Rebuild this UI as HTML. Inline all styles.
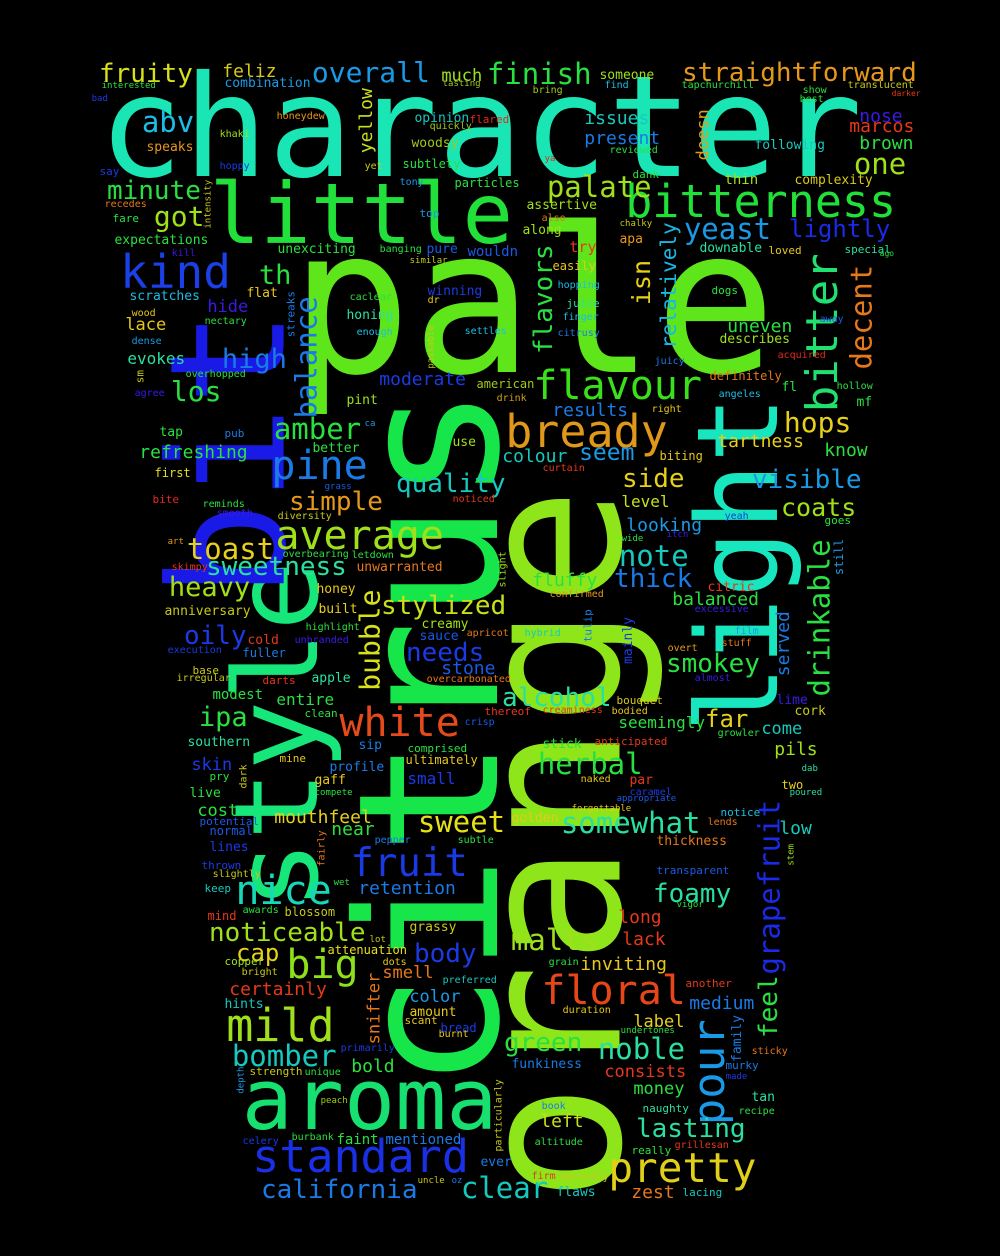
<!DOCTYPE html>
<html><head><meta charset="utf-8">
<style>
html,body{margin:0;padding:0;background:#000;}
#cloud{position:relative;width:1000px;height:1256px;overflow:hidden;background:#000;font-family:"DejaVu Sans Mono","Liberation Mono",monospace;}
.w{position:absolute;white-space:nowrap;line-height:1;}
</style></head>
<body>
<div id="cloud"></div>
<script>
// [word, x, baselineY, fontSize, color, vertical(1 = rotated -90deg; x = baseline x, y = start bottom)]
const words = [
["character",104,177,141,"#19e6b4",0],
["little",213,243,84,"#22e03a",0],
["pale",298,372,202,"#5ee61a",0],
["citrus",497,1082,195,"#17e64a",1],
["orange",620,1195,198,"#8ee61a",1],
["light",778,728,112,"#17e6be",1],
["style",318,905,116,"#17e67a",1],
["bit",284,592,160,"#1a1ae6",1],
["aroma",245,1130,85,"#17e070",0],
["bitterness",627,217,45,"#22e03a",0],
["standard",254,1172,45,"#1a30e6",0],
["pretty",610,1183,41,"#e0d01a",0],
["bready",507,447,45,"#e0981a",0],
["flavour",535,400,40,"#3ae01a",0],
["white",341,737,40,"#e64a1a",0],
["average",277,550,40,"#a0e01a",0],
["pine",273,480,40,"#1a7be6",0],
["mild",228,1041,45,"#a0e01a",0],
["floral",543,1005,40,"#e6461a",0],
["nice",237,905,40,"#17d8b8",0],
["fruit",352,877,39,"#1a3ae6",0],
["big",288,979,40,"#8ee01a",0],
["kind",122,288,46,"#1a40e6",0],
["lightly",790,237,24,"#1a2ae6",0],
["bitter",838,410,44,"#20e070",1],
["decent",872,368,29,"#e6781a",1],
["relatively",677,348,21,"#17b8e6",1],
["isn",650,304,25,"#e6d01a",1],
["flavors",553,353,26,"#2ae040",1],
["doesn",710,160,17,"#e69a1a",1],
["yellow",373,153,18,"#c8e01a",1],
["balance",317,417,29,"#1a7be6",1],
["bubble",380,690,28,"#d8e01a",1],
["snifter",381,1044,17,"#e6781a",1],
["drinkable",830,695,29,"#2ae040",1],
["grapefruit",780,973,29,"#1a2ae6",1],
["feel",778,1037,26,"#2ae040",1],
["pour",725,1123,44,"#1a9ae6",1],
["served",790,676,18,"#1a7be6",1],
["still",843,575,12,"#1a9ae6",1],
["family",742,1061,13,"#1a7be6",1],
["mainly",633,663,13,"#1a3ae6",1],
["tulip",592,642,11,"#1a7be6",1],
["slight",507,587,10,"#a0e01a",1],
["passable",435,368,9,"#c8c81a",1],
["streaks",295,337,11,"#1a7be6",1],
["intensity",212,228,9,"#c8c81a",1],
["sm",144,383,11,"#c8c81a",1],
["dark",248,788,10,"#c8c81a",1],
["fairly",326,866,10,"#e6781a",1],
["depth",245,1093,9,"#1a9ae6",1],
["particularly",503,1151,10,"#c8c81a",1],
["stem",795,865,9,"#a0e01a",1],
["fruity",100,83,26,"#d8e01a",0],
["feliz",223,78,18,"#d8c81a",0],
["overall",313,83,28,"#1a9ae6",0],
["much",442,82,17,"#a0e01a",0],
["finish",488,85,29,"#2ae040",0],
["interested",102,90,9,"#2ae040",0],
["combination",225,88,13,"#1a9ae6",0],
["tasting",443,88,9,"#a0c81a",0],
["bad",92,103,9,"#1a3ae6",0],
["abv",143,133,29,"#1abee6",0],
["honeydew",277,120,10,"#e6981a",0],
["opinion",415,123,13,"#17c8be",0],
["flared",470,123,11,"#e6281a",0],
["quickly",430,130,10,"#a0c81a",0],
["speaks",147,152,13,"#e6981a",0],
["khaki",220,138,10,"#a0e01a",0],
["woodsy",412,148,13,"#a0c81a",0],
["subtlety",403,168,12,"#2ae040",0],
["say",100,175,11,"#1a3ae6",0],
["hoppy",220,170,10,"#1a3ae6",0],
["yet",365,170,10,"#c8c81a",0],
["minute",108,200,26,"#2ae040",0],
["got",155,227,28,"#a0e01a",0],
["tony",400,186,10,"#1a9ae6",0],
["particles",455,187,12,"#2ae040",0],
["recedes",105,208,10,"#e6781a",0],
["fare",113,222,11,"#2ae040",0],
["top",420,217,11,"#1a9ae6",0],
["expectations",115,245,13,"#2ae040",0],
["unexciting",278,254,13,"#2ae040",0],
["banging",380,253,10,"#2ae040",0],
["pure",427,254,13,"#1a5ae6",0],
["wouldn",468,257,14,"#1a5ae6",0],
["kill",172,257,10,"#3a1ae6",0],
["th",260,285,27,"#2ae040",0],
["similar",410,265,9,"#c8c81a",0],
["scratches",130,301,13,"#1abee6",0],
["flat",247,298,13,"#e6c81a",0],
["caclear",350,301,10,"#2ae040",0],
["winning",428,296,13,"#1a3ae6",0],
["dr",428,304,10,"#e6c81a",0],
["hide",208,313,17,"#3a1ae6",0],
["wood",132,317,10,"#e6c81a",0],
["lace",126,331,17,"#e6c81a",0],
["honing",347,320,13,"#2ae0a0",0],
["nectary",205,325,10,"#2ae040",0],
["enough",357,336,10,"#1abee6",0],
["settles",465,335,10,"#1abee6",0],
["dense",132,345,10,"#1a9ae6",0],
["evokes",128,365,16,"#2ae0a0",0],
["high",223,369,27,"#1a7be6",0],
["overhopped",186,378,10,"#2ae040",0],
["moderate",380,386,18,"#1a3ae6",0],
["los",172,402,28,"#2ae040",0],
["agree",135,397,10,"#3a1ae6",0],
["american",477,388,12,"#a0c81a",0],
["pint",347,405,13,"#a0e01a",0],
["drink",497,402,10,"#c8a01a",0],
["amber",275,440,29,"#2ae040",0],
["ca",365,428,9,"#1a9ae6",0],
["tap",160,437,13,"#2ae040",0],
["pub",225,437,11,"#1a7be6",0],
["use",453,447,13,"#a0e01a",0],
["better",313,453,13,"#2ae040",0],
["refreshing",140,459,18,"#2ae040",0],
["first",155,477,12,"#e6e01a",0],
["grass",325,491,9,"#1a5ae6",0],
["quality",397,493,26,"#17c8be",0],
["straightforward",683,82,26,"#e6981a",0],
["someone",600,80,13,"#a0e01a",0],
["find",605,89,10,"#1abee6",0],
["bring",533,94,10,"#a0c81a",0],
["tapchurchill",682,89,10,"#2ae040",0],
["show",803,94,10,"#2ae040",0],
["translucent",848,89,10,"#c8c81a",0],
["darker",892,97,8,"#e6381a",0],
["best",800,103,10,"#2ae040",0],
["issues",585,125,18,"#17c8be",0],
["nose",860,123,18,"#3a1ae6",0],
["marcos",850,133,18,"#e6381a",0],
["present",585,145,18,"#1a7be6",0],
["reviewed",610,154,10,"#2ae040",0],
["following",755,150,13,"#17c8be",0],
["brown",860,150,18,"#2ae040",0],
["ya",545,163,9,"#e6281a",0],
["one",855,175,29,"#a0e01a",0],
["dank",633,178,11,"#2ae040",0],
["thin",725,185,14,"#a0e01a",0],
["complexity",795,185,13,"#d8c81a",0],
["palate",548,198,29,"#a0e01a",0],
["assertive",527,210,13,"#a0e01a",0],
["also",542,222,10,"#e6781a",0],
["along",523,235,13,"#a0e01a",0],
["chalky",620,228,9,"#c8c81a",0],
["yeast",685,240,29,"#1a9ae6",0],
["apa",620,244,13,"#e6981a",0],
["try",570,253,15,"#e6381a",0],
["downable",700,253,13,"#2ae0a0",0],
["loved",769,254,11,"#e6c81a",0],
["special",845,253,11,"#2ae0a0",0],
["ago",880,257,8,"#2ae040",0],
["easily",553,270,12,"#e6c81a",0],
["hopping",558,289,10,"#1abee6",0],
["dogs",712,294,11,"#2ae040",0],
["juice",567,307,11,"#2ae0a0",0],
["finger",563,321,10,"#1abee6",0],
["uneven",728,333,18,"#2ae040",0],
["describes",720,344,13,"#a0e01a",0],
["away",820,323,10,"#1a5ae6",0],
["citrusy",558,337,10,"#1a7be6",0],
["acquired",778,359,10,"#e6281a",0],
["juicy",655,365,10,"#1a7be6",0],
["definitely",710,380,12,"#e6781a",0],
["hollow",837,390,10,"#2ae040",0],
["fl",782,392,13,"#2ae040",0],
["mf",857,407,13,"#2ae040",0],
["angeles",719,398,10,"#1abee6",0],
["results",553,417,18,"#1a7be6",0],
["right",652,413,10,"#e6c81a",0],
["hops",785,433,28,"#e6d01a",0],
["tartness",718,448,18,"#e6d01a",0],
["know",825,457,18,"#2ae040",0],
["colour",503,463,18,"#17c8be",0],
["seem",580,461,23,"#1a9ae6",0],
["biting",660,460,12,"#e6c81a",0],
["curtain",543,472,10,"#e6381a",0],
["side",623,488,26,"#e6d01a",0],
["visible",753,489,26,"#1a9ae6",0],
["coats",782,516,25,"#a0e01a",0],
["level",622,508,16,"#c8e01a",0],
["noticed",453,503,10,"#e6381a",0],
["yeah",725,520,10,"#1a3ae6",0],
["goes",825,524,11,"#2ae040",0],
["looking",627,532,18,"#1a9ae6",0],
["wide",622,543,9,"#2ae040",0],
["itch",667,539,9,"#3a1ae6",0],
["note",620,567,29,"#17c8be",0],
["letdown",352,559,10,"#2ae040",0],
["unwarranted",357,572,13,"#e6781a",0],
["fluffy",533,587,18,"#2ae040",0],
["thick",615,588,26,"#1a7be6",0],
["citric",708,592,13,"#e6381a",0],
["confirmed",550,598,10,"#e6981a",0],
["stylized",382,615,26,"#c8e01a",0],
["balanced",673,606,18,"#2ae040",0],
["excessive",695,613,10,"#3a1ae6",0],
["creamy",422,629,13,"#a0e01a",0],
["apricot",467,637,10,"#e6781a",0],
["hybrid",525,637,10,"#17c8be",0],
["sauce",420,641,13,"#1a5ae6",0],
["film",735,635,10,"#1a9ae6",0],
["stuff",722,647,10,"#e6781a",0],
["needs",407,662,26,"#1a3ae6",0],
["overt",668,652,10,"#e6981a",0],
["smokey",667,673,26,"#2ae040",0],
["stone",442,675,18,"#1a5ae6",0],
["almost",695,682,10,"#3a1ae6",0],
["overcarbonated",427,683,10,"#e6781a",0],
["alcohol",503,707,26,"#2ae0a0",0],
["bouquet",617,704,11,"#d8c81a",0],
["lime",777,705,13,"#3a1ae6",0],
["cork",795,716,13,"#c8c81a",0],
["entire",277,706,16,"#2ae040",0],
["apple",312,683,13,"#2ae0a0",0],
["darts",263,684,11,"#e6381a",0],
["modest",213,700,14,"#2ae040",0],
["clean",305,717,11,"#2ae040",0],
["thereof",485,715,11,"#e6381a",0],
["creaminess",543,714,10,"#e6381a",0],
["bodied",612,715,10,"#e6c81a",0],
["crisp",465,726,10,"#1a5ae6",0],
["seemingly",619,729,16,"#2ae040",0],
["far",706,727,24,"#e6d01a",0],
["come",762,735,17,"#17c8be",0],
["growler",718,737,10,"#2ae040",0],
["ipa",200,727,27,"#2ae040",0],
["southern",188,747,13,"#2ae0a0",0],
["sip",359,750,13,"#1a7be6",0],
["comprised",408,752,11,"#2ae040",0],
["mine",280,762,11,"#e6c81a",0],
["stick",543,749,13,"#2ae040",0],
["anticipated",595,745,11,"#e6381a",0],
["herbal",539,775,29,"#2ae040",0],
["profile",330,772,13,"#1a7be6",0],
["ultimately",406,764,12,"#e6c81a",0],
["par",630,785,13,"#e6381a",0],
["skin",192,771,17,"#1a3ae6",0],
["pry",210,780,11,"#2ae040",0],
["gaff",315,785,13,"#e6c81a",0],
["small",408,785,16,"#1a3ae6",0],
["naked",581,783,10,"#e6c81a",0],
["caramel",630,796,10,"#1a3ae6",0],
["appropriate",617,803,9,"#1a5ae6",0],
["compete",315,797,9,"#2ae040",0],
["live",190,798,13,"#2ae040",0],
["cost",198,817,17,"#2ae040",0],
["potential",200,825,11,"#1a5ae6",0],
["mouthfeel",275,824,18,"#e6d01a",0],
["near",332,836,18,"#2ae040",0],
["forgettable",572,813,9,"#e6c81a",0],
["golden",512,823,13,"#e6c81a",0],
["sweet",419,833,29,"#e6e01a",0],
["somewhat",562,834,29,"#2ae0a0",0],
["notice",721,816,11,"#1abee6",0],
["lends",708,826,10,"#e6781a",0],
["low",780,835,18,"#17c8be",0],
["normal",210,835,12,"#1a5ae6",0],
["lines",210,852,13,"#1a3ae6",0],
["thrown",202,869,11,"#1a3ae6",0],
["slightly",213,878,10,"#c8c81a",0],
["keep",205,892,11,"#17c8be",0],
["pepper",375,844,10,"#1a7be6",0],
["subtle",458,844,10,"#2ae040",0],
["thickness",657,846,13,"#e6781a",0],
["transparent",657,874,11,"#1a5ae6",0],
["retention",359,895,18,"#1a7be6",0],
["foamy",654,903,26,"#2ae0a0",0],
["wet",334,887,9,"#2ae040",0],
["awards",243,914,10,"#2ae040",0],
["blossom",285,916,12,"#c8c81a",0],
["mind",208,920,12,"#e6381a",0],
["vigor",677,909,9,"#2ae040",0],
["long",619,924,18,"#e6381a",0],
["noticeable",210,942,26,"#a0e01a",0],
["grassy",410,932,13,"#c8c81a",0],
["lot",370,944,9,"#c8c81a",0],
["malts",512,951,29,"#a0e01a",0],
["lack",623,946,18,"#e6381a",0],
["cap",237,961,24,"#e6d01a",0],
["attenuation",328,954,12,"#e6e01a",0],
["body",415,963,26,"#1a3ae6",0],
["dots",383,966,10,"#e6c81a",0],
["grain",549,966,10,"#2ae040",0],
["inviting",581,971,18,"#e6c81a",0],
["copper",225,965,11,"#a0e01a",0],
["bright",242,976,10,"#c8c81a",0],
["smell",383,979,17,"#e6781a",0],
["preferred",443,984,10,"#17c8be",0],
["another",686,987,11,"#e6381a",0],
["certainly",230,996,18,"#e6381a",0],
["hints",225,1009,13,"#17c8be",0],
["color",410,1003,17,"#1a9ae6",0],
["medium",690,1010,18,"#1a7be6",0],
["duration",563,1014,10,"#e6c81a",0],
["amount",410,1017,13,"#e6c81a",0],
["scant",405,1024,11,"#e6c81a",0],
["bread",441,1032,12,"#1a3ae6",0],
["label",634,1028,17,"#e6d01a",0],
["burnt",439,1038,10,"#e6c81a",0],
["undertones",621,1035,9,"#2ae040",0],
["green",505,1052,26,"#2ae040",0],
["bomber",233,1067,29,"#17c8be",0],
["noble",599,1060,29,"#2ae0a0",0],
["primarily",341,1052,10,"#1a3ae6",0],
["sticky",752,1055,10,"#e6781a",0],
["strength",250,1075,11,"#c8c81a",0],
["unique",305,1076,10,"#2ae040",0],
["bold",352,1073,18,"#2ae040",0],
["funkiness",512,1069,13,"#1a7be6",0],
["consists",605,1078,17,"#e6381a",0],
["murky",726,1069,11,"#1a7be6",0],
["made",726,1081,9,"#1a3ae6",0],
["money",634,1095,17,"#2ae040",0],
["tan",752,1102,13,"#2ae0a0",0],
["peach",321,1105,9,"#a0c81a",0],
["naughty",643,1112,11,"#2ae0a0",0],
["book",542,1110,10,"#1a7be6",0],
["recipe",739,1115,10,"#2ae040",0],
["left",541,1128,18,"#c8e01a",0],
["lasting",637,1138,26,"#2ae0a0",0],
["celery",243,1145,10,"#1a3ae6",0],
["burbank",292,1141,10,"#2ae040",0],
["faint",337,1145,14,"#2ae040",0],
["mentioned",386,1145,14,"#1a7be6",0],
["altitude",535,1146,10,"#2ae040",0],
["really",632,1154,11,"#2ae040",0],
["grillesan",675,1149,10,"#e6381a",0],
["ever",481,1167,13,"#1a7be6",0],
["firm",532,1180,10,"#e6381a",0],
["decently",561,1181,10,"#c8c81a",0],
["uncle",418,1185,9,"#c8c81a",0],
["oz",452,1185,9,"#1a7be6",0],
["california",262,1199,26,"#1a7be6",0],
["clear",462,1199,29,"#17c8be",0],
["flaws",557,1197,13,"#17c8be",0],
["zest",632,1199,18,"#e6781a",0],
["lacing",683,1196,11,"#17c8be",0],
["bite",153,503,11,"#e6281a",0],
["reminds",203,508,10,"#2ae040",0],
["smooth",217,517,10,"#3a1ae6",0],
["simple",290,511,26,"#e6981a",0],
["diversity",278,520,10,"#c8c81a",0],
["art",168,546,9,"#e6981a",0],
["toast",188,560,29,"#e6d01a",0],
["overbearing",283,558,10,"#2ae040",0],
["skimpy",172,571,10,"#e6381a",0],
["sweetness",207,576,26,"#2ae0a0",0],
["heavy",170,597,27,"#a0e01a",0],
["honey",317,594,13,"#e6c81a",0],
["anniversary",165,616,13,"#c8c81a",0],
["built",319,614,13,"#e6d01a",0],
["highlight",306,631,10,"#2ae040",0],
["oily",185,645,26,"#1a3ae6",0],
["cold",248,645,13,"#e6381a",0],
["unbranded",295,644,10,"#3a1ae6",0],
["execution",168,654,10,"#1a3ae6",0],
["fuller",243,657,12,"#1a7be6",0],
["base",193,674,11,"#c8c81a",0],
["irregular",177,682,10,"#c8c81a",0],
["pils",775,756,18,"#a0e01a",0],
["two",782,789,12,"#e6d01a",0],
["dab",802,773,9,"#2ae0a0",0],
["poured",790,797,9,"#2ae0a0",0]
];
const cloud = document.getElementById('cloud');
for (const w of words) {
  const [txt, x, y, s, col, rot] = w;
  const el = document.createElement('div');
  
  
  el.className = 'w';
  el.textContent = txt;
  el.style.fontSize = s + 'px';
  el.style.color = col;
  const asc = 0.846 * s;
  if (rot) {
    el.style.left = x + 'px';
    el.style.top = (y + 0.04 * s - asc) + 'px';
    el.style.transformOrigin = '0px ' + asc + 'px';
    el.style.transform = 'rotate(-90deg)';
  } else {
    el.style.left = (x - 0.04 * s) + 'px';
    el.style.top = (y - asc) + 'px';
  }
  cloud.appendChild(el);
}
</script>
</body></html>
